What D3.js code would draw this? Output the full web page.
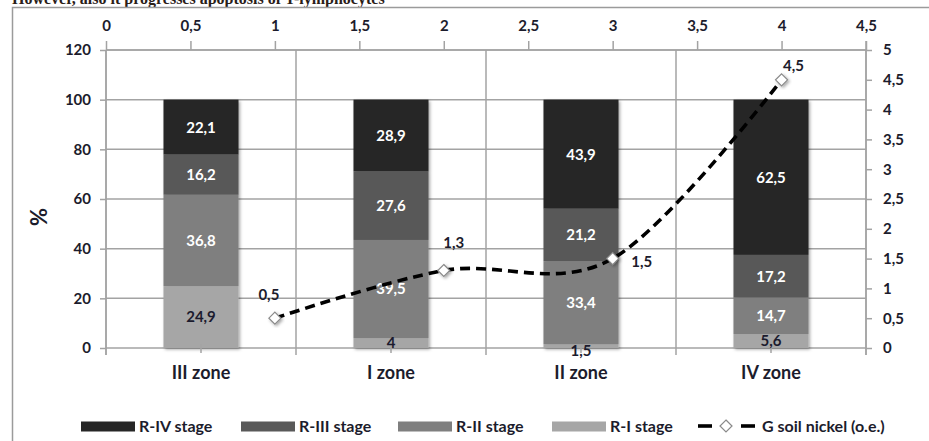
<!DOCTYPE html>
<html><head><meta charset="utf-8">
<script src="https://cdn.jsdelivr.net/npm/d3@7"></script>
<style>
html,body{margin:0;padding:0;background:#fff;}
svg{display:block;}
</style></head>
<body>
<svg id="chart" width="929" height="441"></svg>
<script>
// ---- data ----
const categories = ["III zone", "I zone", "II zone", "IV zone"];
const stages = ["R-I stage", "R-II stage", "R-III stage", "R-IV stage"];
const rI   = [24.9, 4, 1.5, 5.6];
const rII  = [36.8, 39.5, 33.4, 14.7];
const rIII = [16.2, 27.6, 21.2, 17.2];
const rIV  = [22.1, 28.9, 43.9, 62.5];
const nickelX = [1, 2, 3, 4];
const nickel = [0.5, 1.3, 1.5, 4.5];
const leftTicks = [0, 20, 40, 60, 80, 100, 120];
const rightTicks = [0, 0.5, 1, 1.5, 2, 2.5, 3, 3.5, 4, 4.5, 5];
const topTicks = [0, 0.5, 1, 1.5, 2, 2.5, 3, 3.5, 4, 4.5];
const lineName = "G  soil nickel (o.e.)";
const headerText = "However, also it progresses apoptosis of T-lymphocytes";

// ---- styling ----
const FONT = "Lato, 'Open Sans', sans-serif";
const stageColors = ["#a6a6a6", "#7f7f7f", "#595959", "#262626"];
const labelColors = ["#1b1b2e", "#ffffff", "#ffffff", "#ffffff"];
const gridColor = "#a3a3a3";
const textColor = "#1c1c2c";
const fmt = v => String(v).replace(".", ",");

const svg = d3.select("#chart");
const L = 106, R = 866, T = 50, B = 348;

const defs = svg.append("defs");
const f = defs.append("filter").attr("id","shadow").attr("x","-20%").attr("y","-20%").attr("width","150%").attr("height","150%");
f.append("feDropShadow").attr("dx",1.5).attr("dy",1.5).attr("stdDeviation",1.6).attr("flood-color","#000").attr("flood-opacity",0.35);

// header text (cut off at top, as in the source page)
svg.append("text").attr("x", 12).attr("y", 4).style("font-family","'Liberation Serif', 'DejaVu Serif', serif")
  .attr("font-size", 16).attr("font-weight","bold").attr("fill","#2a2018").text(headerText);

// frame
svg.append("path").attr("d", `M12.5,445 V7.5 H935`).attr("fill","none").attr("stroke","#9b9b9b").attr("stroke-width",1.5);

const x = d3.scaleBand().domain(categories).range([L, R]).paddingInner(0.605).paddingOuter(0.3025);
const xTop = d3.scaleLinear().domain([0, 4.5]).range([L, R]);
const y = d3.scaleLinear().domain([0, 120]).range([B, T]);
const y2 = d3.scaleLinear().domain([0, 5]).range([B, T]);

// horizontal grid
svg.append("g").selectAll("line").data(leftTicks).join("line")
  .attr("x1", L).attr("x2", R).attr("y1", d => y(d)).attr("y2", d => y(d))
  .attr("stroke", gridColor).attr("stroke-width", 1.5);
// vertical grid at category boundaries
const bounds = d3.range(categories.length + 1).map(i => L + i * (R - L) / categories.length);
svg.append("g").selectAll("line").data(bounds).join("line")
  .attr("x1", d => d).attr("x2", d => d).attr("y1", T).attr("y2", B + 7)
  .attr("stroke", gridColor).attr("stroke-width", 1.5);

// axes
const leftAxis = d3.axisLeft(y).tickValues(leftTicks).tickSize(6).tickFormat(fmt);
const gl = svg.append("g").attr("transform", `translate(${L},0)`).call(leftAxis);
const rightAxis = d3.axisRight(y2).tickValues(rightTicks).tickSize(6).tickFormat(fmt);
const gr = svg.append("g").attr("transform", `translate(${R},0)`).call(rightAxis);
const topAxis = d3.axisTop(xTop).tickValues(topTicks).tickSize(9).tickFormat(fmt);
const gt = svg.append("g").attr("transform", `translate(0,${T})`).call(topAxis);
[gl, gr, gt].forEach(g => {
  g.select(".domain").attr("stroke", gridColor).attr("stroke-width", 1.5);
  g.selectAll(".tick line").attr("stroke", gridColor).attr("stroke-width", 1.5);
  g.selectAll(".tick text").attr("fill", textColor).attr("font-size", 15).attr("font-weight", "bold")
    .attr("font-family", FONT);
});
gl.select(".domain").attr("d", `M0,${T}V${B + 7}`);
gr.select(".domain").attr("d", `M0,${T - 9}V${B + 7}`);
gt.select(".domain").attr("d", `M${L},0H${R}`);
gl.selectAll(".tick text").attr("x", -15);
gr.selectAll(".tick text").attr("x", 17);
gt.selectAll(".tick text").attr("y", -19);

// % title
svg.append("text").attr("transform", "translate(47,217) rotate(-90)").attr("text-anchor","middle")
  .attr("font-family", FONT).attr("font-size", 22).attr("font-weight","bold").attr("fill", textColor).text("%");

// stacked bars
const table = categories.map((c, i) => ({cat: c, s0: rI[i], s1: rII[i], s2: rIII[i], s3: rIV[i]}));
const stack = d3.stack().keys(["s0","s1","s2","s3"])(table);
const barG = svg.append("g").attr("filter","url(#shadow)");
stack.forEach((layer, k) => {
  barG.append("g").selectAll("rect").data(layer).join("rect")
    .attr("x", d => x(d.data.cat)).attr("width", x.bandwidth())
    .attr("y", d => y(d[1])).attr("height", d => y(d[0]) - y(d[1]))
    .attr("fill", stageColors[k]);
});
// center ticks under bars
svg.append("g").selectAll("line").data(categories).join("line")
  .attr("x1", d => x(d) + x.bandwidth()/2).attr("x2", d => x(d) + x.bandwidth()/2)
  .attr("y1", B - 4).attr("y2", B + 5).attr("stroke", gridColor).attr("stroke-width", 1.5);
// bar labels
stack.forEach((layer, k) => {
  svg.append("g").selectAll("text").data(layer).join("text")
    .attr("x", d => x(d.data.cat) + x.bandwidth()/2)
    .attr("y", d => (y(d[0]) + y(d[1])) / 2 + (k === 0 && (d[1]-d[0]) < 3 ? 4 : 0))
    .attr("dy", "0.36em").attr("text-anchor","middle").attr("font-family", FONT)
    .attr("font-size", 15).attr("font-weight","bold").attr("fill", labelColors[k])
    .text(d => fmt(+(d[1]-d[0]).toFixed(1)));
});

// category labels
svg.append("g").selectAll("text").data(categories).join("text")
  .attr("x", d => x(d) + x.bandwidth()/2).attr("y", 373).attr("dy","0.36em").attr("font-family", FONT)
  .attr("text-anchor","middle").attr("font-size", 18).attr("font-weight","bold").attr("fill", textColor)
  .text(d => d);

// nickel line
const pts = nickelX.map((v, i) => [xTop(v), y2(nickel[i])]);
const lineGen = d3.line().curve(d3.curveCardinal.tension(0));
svg.append("path").attr("d", lineGen(pts)).attr("fill","none").attr("stroke","#000")
  .attr("stroke-width", 3.6).attr("stroke-dasharray","10,6");
const diamondPath = "M0,-6L6,0L0,6L-6,0Z";
svg.append("g").selectAll("path").data(pts).join("path")
  .attr("transform", d => `translate(${d[0]},${d[1]})`).attr("d", diamondPath)
  .attr("fill","#fff").attr("stroke","#8a8a8a").attr("stroke-width",1.2).attr("filter","url(#shadow)");
const lineLabelOffsets = [[-6,-24],[10,-28],[29,3],[12,-14]];
svg.append("g").selectAll("text").data(pts).join("text")
  .attr("x", (d,i) => d[0] + lineLabelOffsets[i][0]).attr("y", (d,i) => d[1] + lineLabelOffsets[i][1])
  .attr("dy","0.36em").attr("text-anchor","middle").attr("font-family", FONT).attr("font-size",15).attr("font-weight","bold")
  .attr("fill", textColor).text((d,i) => fmt(nickel[i]));

// legend
const legendItems = [
  {name: stages[3], color: stageColors[3], x: 81},
  {name: stages[2], color: stageColors[2], x: 241},
  {name: stages[1], color: stageColors[1], x: 398},
  {name: stages[0], color: stageColors[0], x: 552}
];
const lg = svg.append("g");
legendItems.forEach(it => {
  lg.append("rect").attr("x", it.x).attr("y", 421.5).attr("width", 54).attr("height", 10).attr("fill", it.color);
  lg.append("text").attr("x", it.x + 58).attr("y", 426).attr("dy","0.36em").attr("font-family", FONT).attr("font-size",16)
    .attr("font-weight","bold").attr("fill", textColor).text(it.name);
});
lg.append("line").attr("x1", 698).attr("x2", 712).attr("y1", 426).attr("y2", 426)
  .attr("stroke","#000").attr("stroke-width",3.6);
lg.append("line").attr("x1", 741).attr("x2", 755).attr("y1", 426).attr("y2", 426)
  .attr("stroke","#000").attr("stroke-width",3.6);
lg.append("path").attr("transform","translate(726,426)").attr("d", diamondPath)
  .attr("fill","#fff").attr("stroke","#8a8a8a").attr("stroke-width",1.2);
lg.append("text").attr("x", 762).attr("y", 426).attr("dy","0.36em").attr("font-family", FONT).attr("font-size",16)
  .attr("font-weight","bold").attr("fill", textColor).text(lineName);
</script>
</body></html>
